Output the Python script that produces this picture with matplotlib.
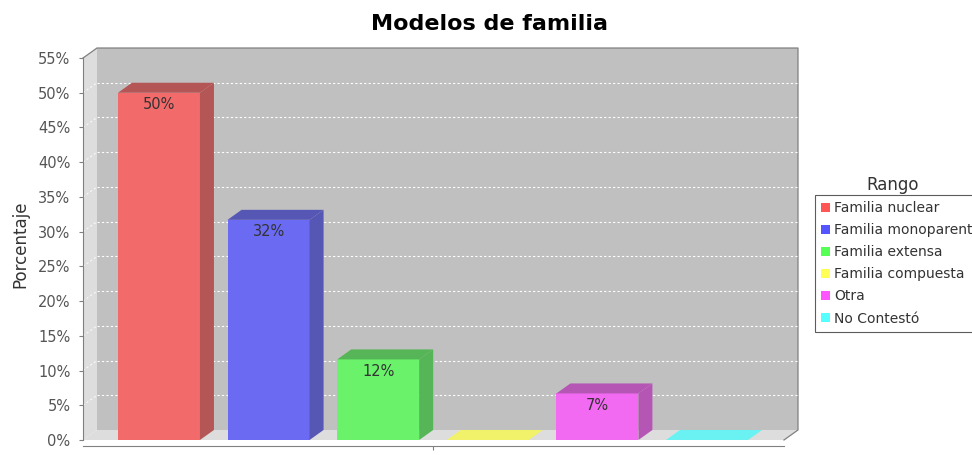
import numpy as np
import matplotlib
matplotlib.use("Agg")
import matplotlib.pyplot as plt
from matplotlib.patches import Polygon, Rectangle

# data (one category, six series)
series_names = ["Familia nuclear", "Familia monoparental", "Familia extensa",
                "Familia compuesta", "Otra", "No Contestó"]
values = [50.0, 31.7, 11.6, 0.0, 6.7, 0.0]
y_ticks = [0, 5, 10, 15, 20, 25, 30, 35, 40, 45, 50, 55]
colors = ["#FF5555", "#5555FF", "#55FF55", "#FFFF55", "#FF55FF", "#55FFFF"]

# 3d look (JFreeChart style)
bg = np.array([192, 192, 192]) / 255.0
alpha = 0.8
dx = 0.1277   # x offset of the back wall, in category units
dy = 1.44     # y offset of the back wall, in percent
width = 0.748
x0, x1 = -0.693, 5.83 - dx
ymax = 55


def blend(c, f=1.0):
    c = np.array(matplotlib.colors.to_rgb(c)) * f
    return alpha * c + (1 - alpha) * bg


fig = plt.figure(figsize=(9.72, 4.55), dpi=100)
ax = fig.add_axes([83 / 972, (455 - 450.4) / 455, 715 / 972, (450.4 - 47.6) / 455])
ax.set_xlim(x0, x1 + dx)
ax.set_ylim(-1.5, 56.5)

# walls
ax.add_patch(Rectangle((x0 + dx, dy), x1 - x0, ymax, facecolor="#C0C0C0",
                       edgecolor="none", zorder=0))
ax.add_patch(Polygon([(x0, 0), (x0 + dx, dy), (x0 + dx, ymax + dy), (x0, ymax)],
                     closed=True, facecolor="#DDDDDD", edgecolor="none", zorder=0))
ax.add_patch(Polygon([(x0, 0), (x0 + dx, dy), (x1 + dx, dy), (x1, 0)],
                     closed=True, facecolor="#DDDDDD", edgecolor="none", zorder=0))
# outline
ax.plot([x0, x0 + dx, x1 + dx, x1 + dx, x1], [ymax, ymax + dy, ymax + dy, dy, 0],
        color="#808080", lw=0.9, zorder=1, clip_on=False)

# gridlines
for t in y_ticks[1:-1]:
    ax.plot([x0 + dx, x1 + dx], [t + dy, t + dy], color="white", lw=0.8,
            ls=(0, (2, 2)), zorder=1)
    ax.plot([x0, x0 + dx], [t, t + dy], color="white", lw=0.8,
            ls=(0, (2, 2)), zorder=1, alpha=0.8)

# bars
for i, (v, c) in enumerate(zip(values, colors)):
    l = i - width / 2
    r = i + width / 2
    front = blend(c)
    dark = blend(c, 0.7)
    if v > 0:
        ax.add_patch(Rectangle((l, 0), width, v, facecolor=front,
                               edgecolor="none", zorder=3))
        ax.add_patch(Polygon([(r, 0), (r + dx, dy), (r + dx, v + dy), (r, v)],
                             closed=True, facecolor=dark, edgecolor="none", zorder=3))
        ax.add_patch(Polygon([(l, v), (l + dx, v + dy), (r + dx, v + dy), (r, v)],
                             closed=True, facecolor=dark, edgecolor="none", zorder=3))
        ax.annotate("%.0f%%" % v, (i, v), xytext=(0, -12), textcoords="offset pixels",
                    ha="center", va="center", fontsize=10.5, color="#333333", zorder=4)
    else:
        ax.add_patch(Polygon([(l, 0), (l + dx, dy), (r + dx, dy), (r, 0)],
                             closed=True, facecolor=front, edgecolor="none", zorder=3))

# axes
for s in ["top", "right"]:
    ax.spines[s].set_visible(False)
ax.spines["left"].set_bounds(0, ymax)
ax.spines["left"].set_color("#808080")
ax.spines["bottom"].set_position(("data", -0.86))
ax.spines["bottom"].set_bounds(x0, x1)
ax.spines["bottom"].set_color("#808080")
ax.set_yticks(y_ticks)
ax.set_yticklabels(["%d%%" % t for t in y_ticks])
ax.set_xticks([2.5])
ax.set_xticklabels([""])
ax.tick_params(axis="y", length=3, color="#808080", labelcolor="#555555",
               labelsize=10.5, pad=6)
ax.tick_params(axis="x", length=3, color="#808080")
ax.patch.set_visible(False)

fig.text(20 / 972, 1 - 244 / 455, "Porcentaje", rotation=90, ha="center",
         va="center", fontsize=12, color="#333333")
fig.text(489 / 972, 1 - 24 / 455, "Modelos de familia", ha="center", va="center",
         fontsize=16, fontweight="bold")

# legend
handles = [Rectangle((0, 0), 1, 1, facecolor=c, edgecolor="none") for c in colors]
leg = fig.legend(handles, series_names, loc="upper left",
                 bbox_to_anchor=(815 / 972, 1 - 195 / 455), fontsize=10,
                 frameon=True, fancybox=False,
                 handlelength=0.6, handleheight=0.6, handletextpad=0.35,
                 labelspacing=0.58, borderpad=0.45, borderaxespad=0)
leg.get_frame().set_edgecolor("#333333")
leg.get_frame().set_linewidth(0.8)
for t in leg.get_texts():
    t.set_color("#333333")
fig.text(893 / 972, 1 - 185 / 455, "Rango", ha="center", va="center",
         fontsize=12, color="#333333")

fig.savefig("out.png", dpi=100)
